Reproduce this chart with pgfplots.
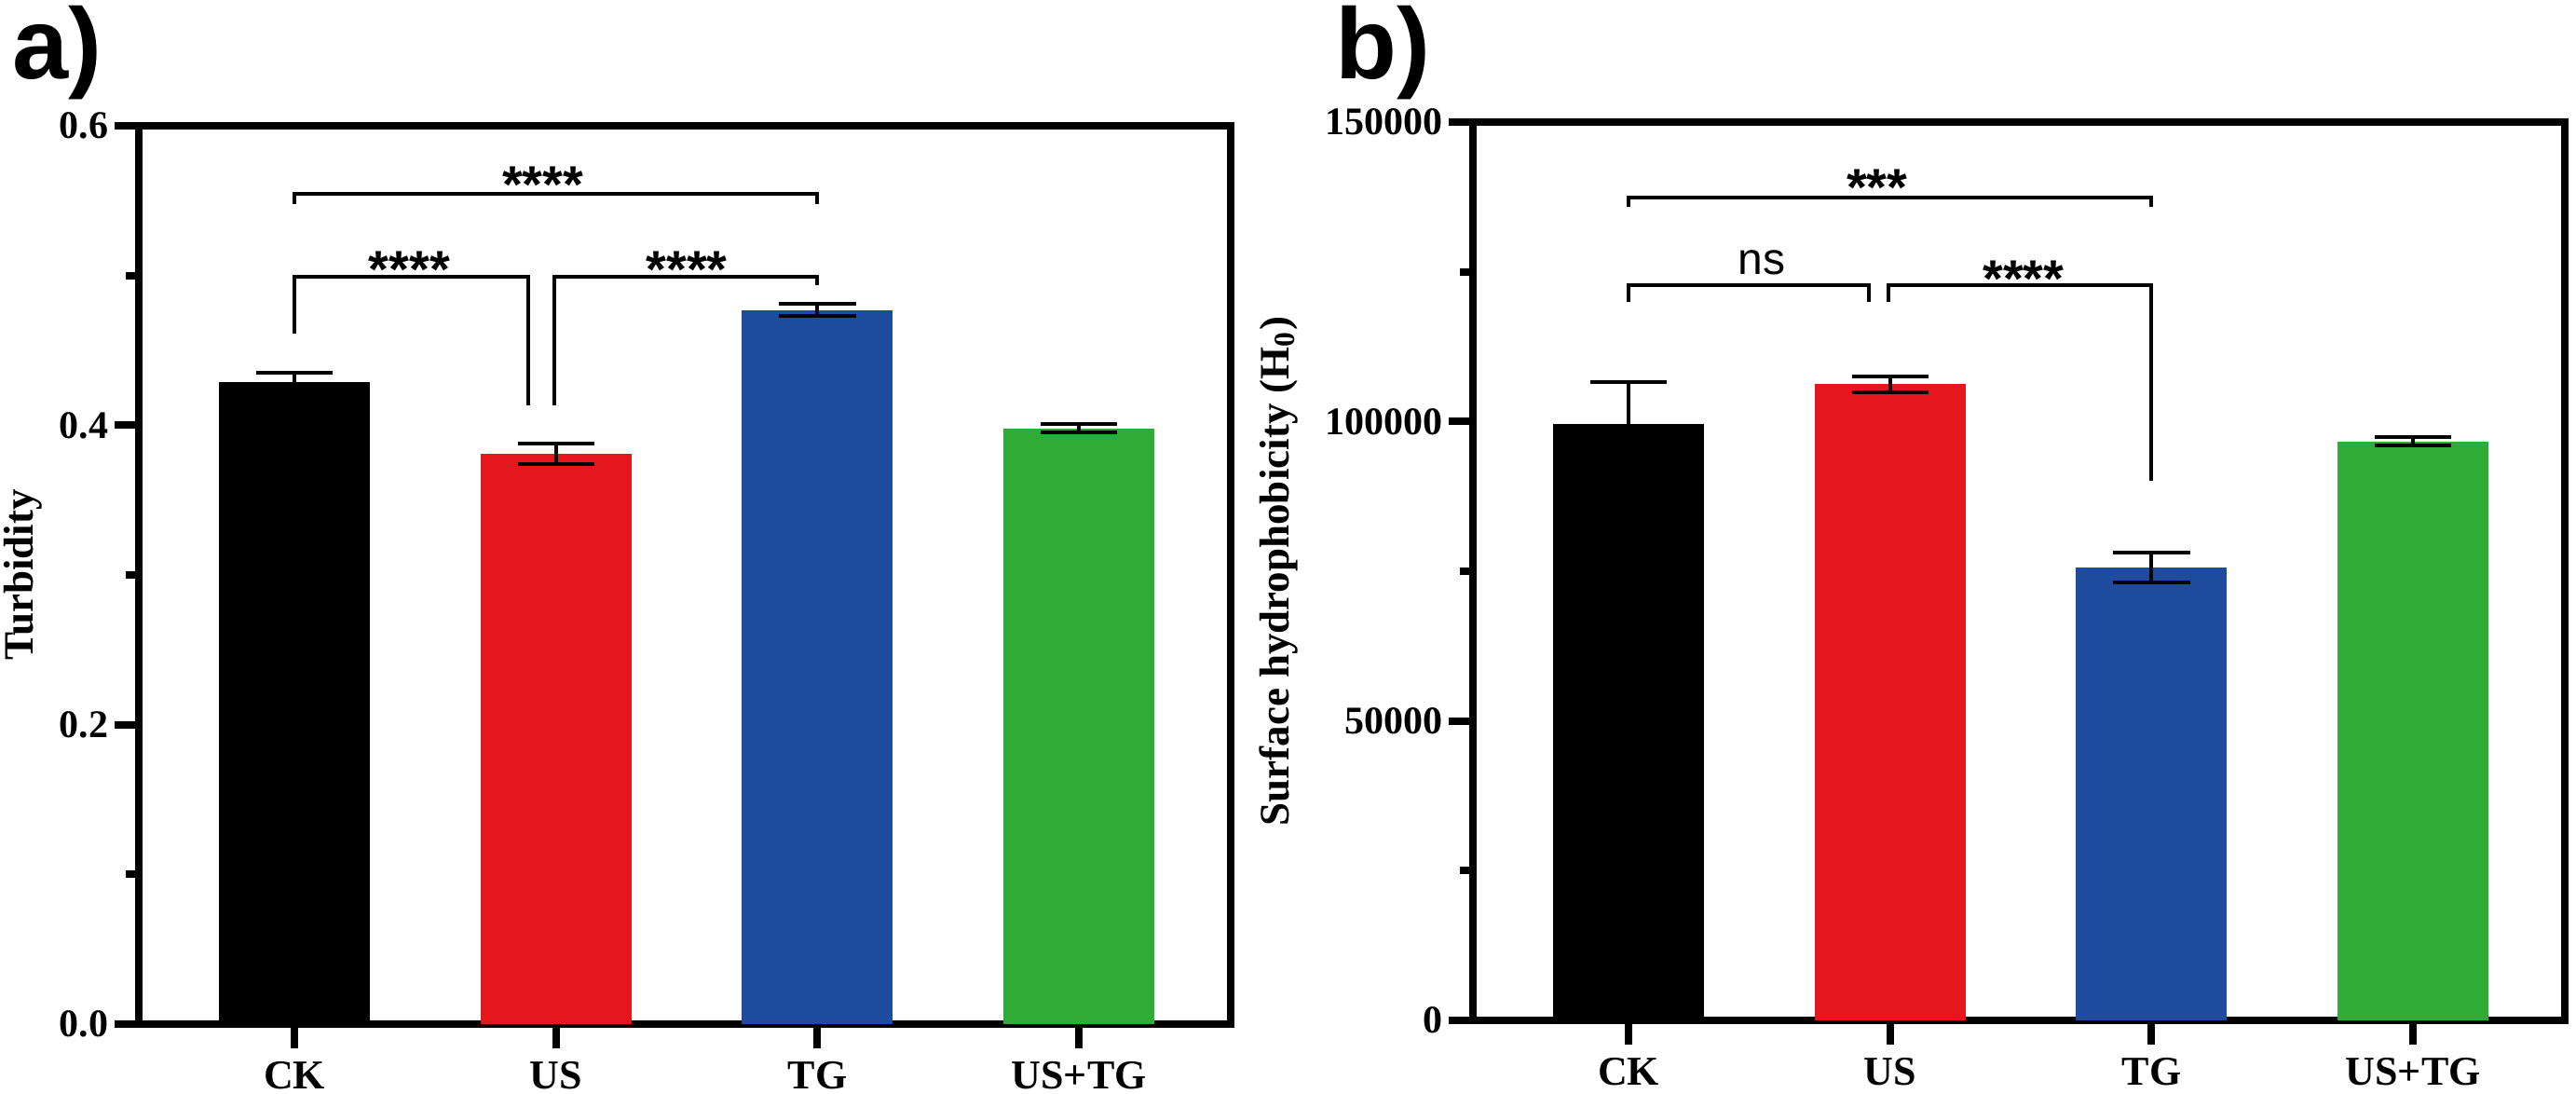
\documentclass[border=0pt]{standalone}
\usepackage{fontspec}
\setmainfont{Liberation Serif}
\newfontfamily\arialf{Liberation Sans}
\usepackage{pgfplots}
\pgfplotsset{compat=1.18}
\definecolor{cRed}{RGB}{230,22,29}
\definecolor{cBlue}{RGB}{30,75,157}
\definecolor{cGreen}{RGB}{47,172,54}
\newcommand\starfont{\arialf\bfseries\fontsize{14}{14}\selectfont}
\pgfplotsset{
  myaxis/.style={
    scale only axis, width=293pt, height=241pt,
    xmin=-0.595, xmax=3.58, ymin=0,
    ybar, bar width=40.5pt, bar shift=0pt,
    clip=false,
    axis line style={line width=2pt, line cap=rect},
    tick align=outside, xtick pos=bottom, ytick pos=left,
    major tick length=6.5pt, minor tick length=3.5pt,
    every tick/.style={black, line width=2pt},
    xtick={0,1,2,3}, xticklabels={CK,US,TG,US+TG},
    /pgf/number format/assume math mode=true,
    yticklabel style={font=\fontsize{10.5}{12}\selectfont\bfseries, inner sep=1.5pt},
    xticklabel style={font=\fontsize{11}{12}\selectfont\bfseries},
    ylabel style={font=\fontsize{11.25}{13}\selectfont\bfseries, anchor=center},
  },
  mybar/.style={fill=#1, draw=none,
    error bars/.cd, y dir=both, y explicit,
    error bar style={line width=1pt, black},
    error mark options={line width=1pt, black, mark size=10.3pt, rotate=90}},
  brk/.style={sharp plot, black, line width=1pt, mark=none, forget plot},
}
\begin{document}
\begin{tikzpicture}
\useasboundingbox (0,0) rectangle (691.25pt,-293.5pt);
\node[anchor=base west, inner sep=0, font=\arialf\bfseries\fontsize{27}{27}\selectfont] at (3.25pt,-21.25pt) {a)};
\node[anchor=base west, inner sep=0, font=\arialf\bfseries\fontsize{27}{27}\selectfont] at (358.25pt,-21.25pt) {b)};
% Panel a
\begin{axis}[myaxis, at={(37.25pt,-274.75pt)}, anchor=south west,
  ymax=0.6, ytick={0,0.2,0.4,0.6}, minor ytick={0.1,0.3,0.5},
  yticklabel style={/pgf/number format/.cd, fixed, fixed zerofill, precision=1},
  ylabel={Turbidity},
  ylabel style={at={(axis description cs:-0.1057,0.5)}}]
\addplot[mybar=black] coordinates {(0,0.429) +- (0,0.006)};
\addplot[mybar=cRed] coordinates {(1,0.381) +- (0,0.007)};
\addplot[mybar=cBlue] coordinates {(2,0.477) +- (0,0.004)};
\addplot[mybar=cGreen] coordinates {(3,0.398) +- (0,0.003)};
\addplot[brk] coordinates {(0,0.548) (0,0.5546) (2,0.5546) (2,0.548)};
\addplot[brk] coordinates {(0,0.461) (0,0.4989) (0.893,0.4989) (0.893,0.413)};
\addplot[brk] coordinates {(0.993,0.413) (0.993,0.4989) (2,0.4989) (2,0.4933)};
\node[anchor=base, inner sep=0, font=\starfont] at (axis cs:0.95,0.5489) {****};
\node[anchor=base, inner sep=0, font=\starfont] at (axis cs:0.44,0.4922) {****};
\node[anchor=base, inner sep=0, font=\starfont] at (axis cs:1.50,0.4922) {****};
\end{axis}
% Panel b
\begin{axis}[myaxis, at={(395.25pt,-273.75pt)}, anchor=south west,
  ymax=150000, ytick={0,50000,100000,150000}, minor ytick={25000,75000,125000},
  scaled y ticks=false,
  yticklabel style={/pgf/number format/.cd, fixed, precision=0, 1000 sep={}},
  ylabel={Surface hydrophobicity (H\textsubscript{0})},
  ylabel style={at={(axis description cs:-0.178,0.5)}}]
\addplot[mybar=black] coordinates {(0,99600) +- (0,7000)};
\addplot[mybar=cRed] coordinates {(1,106200) +- (0,1250)};
\addplot[mybar=cBlue] coordinates {(2,75600) +- (0,2450)};
\addplot[mybar=cGreen] coordinates {(3,96700) +- (0,700)};
\addplot[brk] coordinates {(0,135900) (0,137440) (2,137440) (2,135900)};
\addplot[brk] coordinates {(0,119900) (0,122700) (0.92,122700) (0.92,119900)};
\addplot[brk] coordinates {(0.993,119900) (0.993,122700) (2,122700) (2,90100)};
\node[anchor=base, inner sep=0, font=\starfont] at (axis cs:0.95,136100) {***};
\node[anchor=base, inner sep=0, font=\starfont] at (axis cs:1.51,120880) {****};
\node[anchor=base, inner sep=0, font=\arialf\fontsize{12}{12}\selectfont] at (axis cs:0.51,124550) {ns};
\end{axis}
\end{tikzpicture}
\end{document}
